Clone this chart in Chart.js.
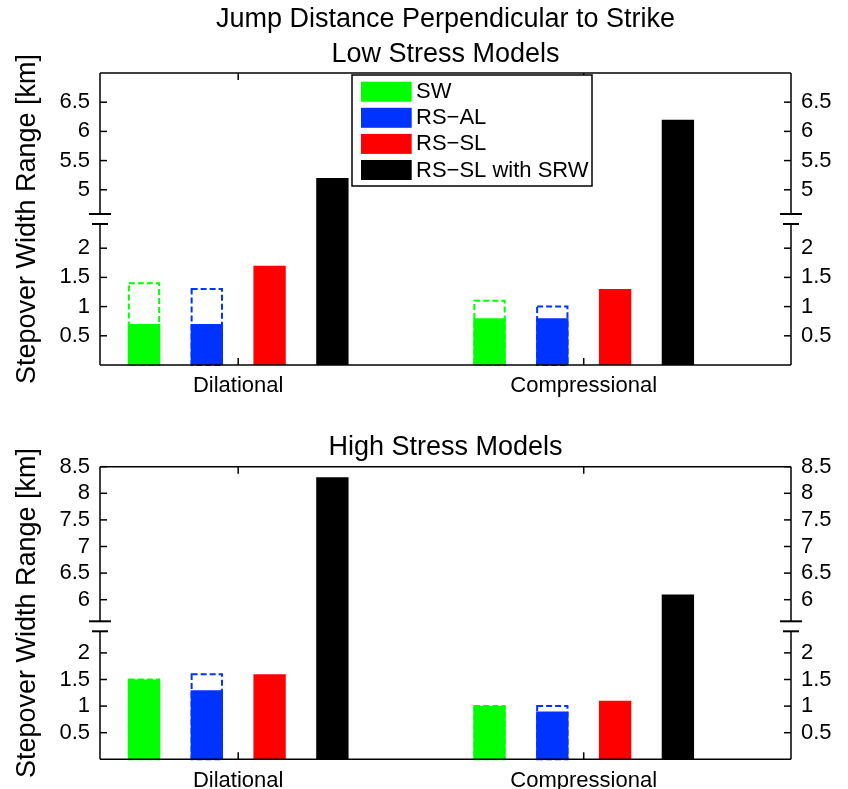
<!DOCTYPE html>
<html>
<head>
<meta charset="utf-8">
<script src="https://cdn.jsdelivr.net/npm/chart.js@4.4.1/dist/chart.umd.min.js"></script>
<style>
  body { margin: 0; background: #fff; }
  .panel { position: relative; width: 848px; }
  #low { height: 400px; }
  #high { height: 389px; }
</style>
</head>
<body>
<div class="panel" id="low"><canvas id="lowChart"></canvas></div>
<div class="panel" id="high"><canvas id="highChart"></canvas></div>
<script>
const FONT = '"Liberation Sans", Arial, Helvetica, sans-serif'

const categories = ['Dilational', 'Compressional']
const seriesNames = ['SW', 'RS\u2212AL', 'RS\u2212SL', 'RS\u2212SL with SRW']
const seriesColors = ['#00ff00', '#0033ff', '#ff0000', '#000000']

// low stress models (solid = value, max = top of dashed range)
const lowSW = [0.7, 0.8]
const lowSWMax = [1.4, 1.1]
const lowAL = [0.7, 0.8]
const lowALMax = [1.3, 1.0]
const lowSL = [1.7, 1.3]
const lowSRW = [5.2, 6.2]
const lowTicks = [0.5, 1, 1.5, 2, 5, 5.5, 6, 6.5]
const lowBreak = [2.5, 4.5]
const lowTop = 7

// high stress models
const highSW = [1.5, 1.0]
const highSWMax = [1.5, 1.0]
const highAL = [1.3, 0.9]
const highALMax = [1.6, 1.0]
const highSL = [1.6, 1.1]
const highSRW = [8.3, 6.1]
const highTicks = [0.5, 1, 1.5, 2, 6, 6.5, 7, 7.5, 8, 8.5]
const highBreak = [2.5, 5.5]
const highTop = 8.5

// broken axis: values above the break are shifted down by the gap
const squash = (brk) => (v) => v <= brk[0] ? v : v - (brk[1] - brk[0])

const makeDatasets = (sw, swMax, al, alMax, sl, srw, f) => {
  const pts = (arr) => arr.map((v, i) => ({ x: i + 1, y: f(v) }))
  return [
    { label: seriesNames[0], data: pts(sw), backgroundColor: seriesColors[0], stack: 's0' },
    { label: 'SW range', data: pts(swMax), backgroundColor: 'rgba(0,0,0,0)', stack: 's0', dashed: true, dashColor: seriesColors[0] },
    { label: seriesNames[1], data: pts(al), backgroundColor: seriesColors[1], stack: 's1' },
    { label: 'AL range', data: pts(alMax), backgroundColor: 'rgba(0,0,0,0)', stack: 's1', dashed: true, dashColor: seriesColors[1] },
    { label: seriesNames[2], data: pts(sl), backgroundColor: seriesColors[2], stack: 's2' },
    { label: seriesNames[3], data: pts(srw), backgroundColor: seriesColors[3], stack: 's3' },
  ]
}

const axisDecor = {
  id: 'axisDecor',
  afterDatasetsDraw(chart) {
    const { ctx } = chart
    chart.data.datasets.forEach((ds, i) => {
      if (!ds.dashed) return
      chart.getDatasetMeta(i).data.forEach((bar) => {
        const { x, y, base, width } = bar.getProps(['x', 'y', 'base', 'width'], true)
        ctx.save()
        ctx.setLineDash([6, 3])
        ctx.lineWidth = 2
        ctx.strokeStyle = ds.dashColor
        ctx.strokeRect(x - width / 2 + 1, y, width - 2, base - y)
        ctx.restore()
      })
    })
  },
  afterDraw(chart, args, opts) {
    const { ctx, chartArea: a, scales } = chart
    const yb = scales.y.getPixelForValue(opts.breakAt)
    const line = (x1, y1, x2, y2) => { ctx.beginPath(); ctx.moveTo(x1, y1); ctx.lineTo(x2, y2); ctx.stroke() }
    ctx.save()
    ctx.strokeStyle = '#000'
    ctx.lineWidth = 1.5
    line(a.left, a.top, a.right, a.top)
    line(a.left, a.bottom, a.right, a.bottom)
    for (const x of [a.left, a.right]) {
      line(x, a.top, x, yb - 5)
      line(x, yb + 5, x, a.bottom)
    }
    scales.y.ticks.forEach((t) => {
      const py = scales.y.getPixelForValue(t.value)
      line(a.left, py, a.left + 7, py)
      line(a.right - 7, py, a.right, py)
    })
    scales.x.ticks.forEach((t) => {
      const px = scales.x.getPixelForValue(t.value)
      line(px, a.top, px, a.top + 7)
      line(px, a.bottom, px, a.bottom - 7)
    })
    ctx.lineWidth = 2
    for (const x of [a.left, a.right]) {
      line(x - 11, yb - 5, x + 11, yb - 5)
      line(x - 8, yb + 5, x + 8, yb + 5)
    }
    if (opts.legend) {
      const items = chart.data.datasets.filter((d) => !d.dashed)
      ctx.fillStyle = '#fff'
      ctx.fillRect(352, 75, 240, 111)
      ctx.lineWidth = 1.5
      ctx.strokeRect(352, 75, 240, 111)
      ctx.font = '22px ' + FONT
      ctx.textBaseline = 'middle'
      items.forEach((d, i) => {
        const top = 81.7 + 26.1 * i
        ctx.fillStyle = d.backgroundColor
        ctx.fillRect(361, top, 50.7, 20)
        ctx.fillStyle = '#000'
        ctx.fillText(d.label, 416, top + 10.5)
      })
    }
    ctx.restore()
  },
}

const yAxis = (side, top, ticks, f) => ({
  type: 'linear',
  position: side,
  min: 0,
  max: f(top),
  grid: { display: false, drawTicks: false },
  border: { display: false },
  afterBuildTicks: (s) => { s.ticks = ticks.map((v) => ({ value: f(v) })) },
  afterFit: (s) => { s.width = side === 'left' ? 100 : 57 },
  ticks: {
    autoSkip: false,
    padding: 10,
    color: '#000',
    font: { family: FONT, size: 22 },
    callback: (v, i) => String(ticks[i]),
  },
  title: side === 'left'
    ? { display: true, text: 'Stepover Width Range [km]', color: '#000', font: { family: FONT, size: 27 }, padding: { top: 11, bottom: 0 } }
    : { display: false },
})

const makeChart = (el, title, titlePad, xHeight, top, ticks, brk, datasets, legend) => {
  const f = squash(brk)
  return new Chart(document.getElementById(el), {
    type: 'bar',
    data: { datasets },
    options: {
      responsive: true,
      maintainAspectRatio: false,
      animation: false,
      datasets: { bar: { categoryPercentage: 0.727, barPercentage: 0.515, borderWidth: 0 } },
      scales: {
        x: {
          type: 'linear',
          min: 0.6,
          max: 2.6,
          offset: false,
          grid: { display: false, drawTicks: false },
          border: { display: false },
          afterBuildTicks: (s) => { s.ticks = categories.map((c, i) => ({ value: i + 1 })) },
          afterFit: (s) => { s.height = xHeight },
          ticks: {
            autoSkip: false,
            maxRotation: 0,
            padding: 8,
            color: '#000',
            font: { family: FONT, size: 22 },
            callback: (v, i) => categories[i],
          },
        },
        y: Object.assign(yAxis('left', top, ticks, f), { stacked: false }),
        y2: yAxis('right', top, ticks, f),
      },
      plugins: {
        legend: { display: false },
        tooltip: { enabled: false },
        title: {
          display: true,
          fullSize: false,
          text: title,
          color: '#000',
          font: { family: FONT, size: 27, weight: 'normal', lineHeight: 1.296 },
          padding: titlePad,
        },
        axisDecor: { breakAt: brk[0], legend },
      },
    },
    plugins: [axisDecor],
  })
}

makeChart('lowChart', ['Jump Distance Perpendicular to Strike', 'Low Stress Models'], { top: 2, bottom: 1 }, 35,
  lowTop, lowTicks, lowBreak, makeDatasets(lowSW, lowSWMax, lowAL, lowALMax, lowSL, lowSRW, squash(lowBreak)), true)

makeChart('highChart', 'High Stress Models', { top: 30.5, bottom: 1.2 }, 29.7,
  highTop, highTicks, highBreak, makeDatasets(highSW, highSWMax, highAL, highALMax, highSL, highSRW, squash(highBreak)), false)
</script>
</body>
</html>
